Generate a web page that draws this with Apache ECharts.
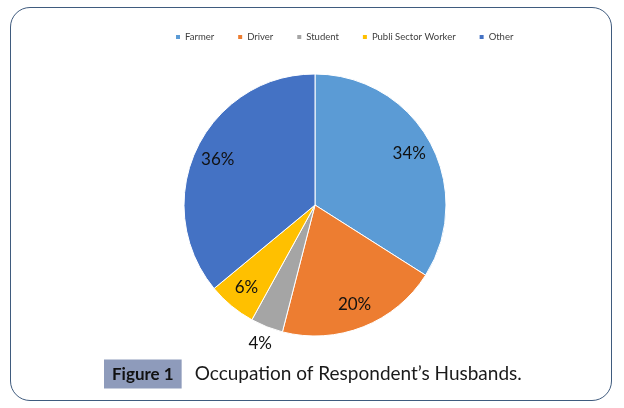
<!DOCTYPE html>
<html><head><meta charset="utf-8">
<script src="https://cdn.jsdelivr.net/npm/echarts@6/dist/echarts.min.js"></script>
<style>
html,body{margin:0;padding:0;background:#fff;}
#frame{position:absolute;left:10px;top:7px;width:602px;height:394px;border:1.5px solid #3f5b7e;border-radius:20px;box-sizing:border-box;}
#chart{position:absolute;left:0;top:0;width:624px;height:408px;}
</style></head>
<body>
<div id="frame"></div>
<div id="chart"></div>
<script>
const categories = ['Farmer', 'Driver', 'Student', 'Publi Sector Worker', 'Other'];
const values = [34, 20, 4, 6, 36];
const colors = ['#5B9BD5', '#ED7D31', '#A5A5A5', '#FFC000', '#4472C4'];
const figureLabel = 'Figure 1';
const caption = 'Occupation of Respondent\u2019s Husbands.';

const chart = echarts.init(document.getElementById('chart'), null, {renderer: 'canvas'});
const font = 'Lato, "Open Sans", sans-serif';
const center = [315, 205];
const mainData = categories.map((c, i) => ({name: c, value: values[i], itemStyle: {color: colors[i]}}));
const labelData = categories.map((c, i) => ({name: c, value: values[i], label: {show: c !== 'Student'}}));
const outerLabelData = categories.map((c, i) => ({name: c, value: values[i], label: {show: c === 'Student'}}));
const labelCommon = {position: 'inside', formatter: '{d}%', color: '#111', fontSize: 17, fontFamily: font};
chart.setOption({
  animation: false,
  title: {
    text: '{a|' + figureLabel + '}  {b|' + caption + '}',
    left: 99, top: 359,
    textStyle: {
      fontWeight: 'normal',
      rich: {
        a: {backgroundColor: '#8e9bbb', color: '#111', fontWeight: 'bold', fontSize: 17, fontFamily: font, padding: [5, 8, 4, 8], height: 20, lineHeight: 20},
        b: {color: '#1a1a1a', fontWeight: 'normal', fontSize: 19, fontFamily: font, padding: [0, 0, 0, 3]}
      }
    }
  },
  legend: {
    top: 27, left: 169,
    itemWidth: 6, itemHeight: 6, itemGap: 22,
    icon: 'rect',
    data: categories,
    textStyle: {fontSize: 9.5, color: '#404040', fontFamily: font, padding: [0, 0, 0, -1]}
  },
  series: [
    {
      type: 'pie', center: center, radius: 131, startAngle: 90, clockwise: true,
      data: mainData, label: {show: false}, labelLine: {show: false},
      itemStyle: {borderColor: '#fff', borderWidth: 1}, silent: true
    },
    {
      type: 'pie', center: center, radius: [78, 131], startAngle: 90, clockwise: true,
      data: labelData, itemStyle: {color: 'rgba(0,0,0,0)'}, silent: true,
      label: labelCommon, labelLine: {show: false}, legendHoverLink: false
    },
    {
      type: 'pie', center: center, radius: [127, 165], startAngle: 90, clockwise: true,
      data: outerLabelData, itemStyle: {color: 'rgba(0,0,0,0)'}, silent: true,
      label: labelCommon, labelLine: {show: false}, legendHoverLink: false
    }
  ]
});
</script>
</body></html>
